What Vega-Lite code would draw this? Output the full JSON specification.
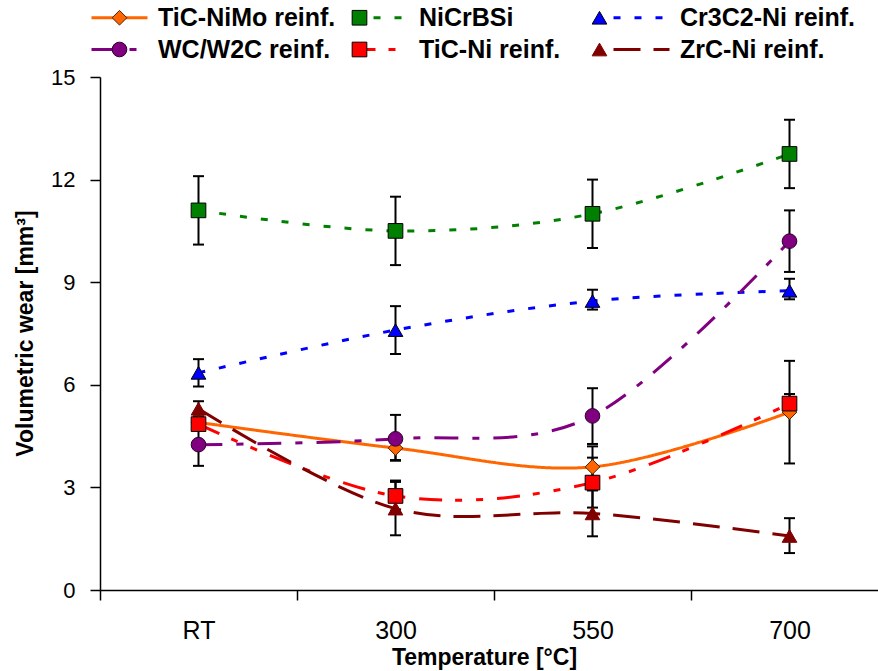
{
  "$schema": "https://vega.github.io/schema/vega-lite/v6.json",
  "width": 778,
  "height": 513,
  "autosize": "none",
  "padding": {"left": 100, "top": 77, "right": 0, "bottom": 81},
  "background": "white",
  "config": {
    "font": "Liberation Sans",
    "view": {"stroke": null},
    "axis": {"domainColor": "black", "tickColor": "black", "labelColor": "black", "titleColor": "black", "domainWidth": 1.5, "tickWidth": 1.5, "grid": false}
  },
  "data": {
    "values": [
      {"temp": "RT", "series": "TiC-NiMo reinf.", "order": 0, "v": 4.9, "lo": 4.65, "hi": 5.15},
      {"temp": "300", "series": "TiC-NiMo reinf.", "order": 0, "v": 4.15, "lo": 3.8, "hi": 4.5},
      {"temp": "550", "series": "TiC-NiMo reinf.", "order": 0, "v": 3.6, "lo": 3.0, "hi": 4.2},
      {"temp": "700", "series": "TiC-NiMo reinf.", "order": 0, "v": 5.2, "lo": 3.7, "hi": 6.7},
      {"temp": "RT", "series": "NiCrBSi", "order": 1, "v": 11.1, "lo": 10.1, "hi": 12.1},
      {"temp": "300", "series": "NiCrBSi", "order": 1, "v": 10.5, "lo": 9.5, "hi": 11.5},
      {"temp": "550", "series": "NiCrBSi", "order": 1, "v": 11.0, "lo": 10.0, "hi": 12.0},
      {"temp": "700", "series": "NiCrBSi", "order": 1, "v": 12.75, "lo": 11.75, "hi": 13.75},
      {"temp": "RT", "series": "Cr3C2-Ni reinf.", "order": 2, "v": 6.35, "lo": 5.95, "hi": 6.75},
      {"temp": "300", "series": "Cr3C2-Ni reinf.", "order": 2, "v": 7.6, "lo": 6.9, "hi": 8.3},
      {"temp": "550", "series": "Cr3C2-Ni reinf.", "order": 2, "v": 8.45, "lo": 8.2, "hi": 8.78},
      {"temp": "700", "series": "Cr3C2-Ni reinf.", "order": 2, "v": 8.75, "lo": 8.5, "hi": 9.1},
      {"temp": "RT", "series": "WC/W2C reinf.", "order": 3, "v": 4.25, "lo": 3.63, "hi": 4.87},
      {"temp": "300", "series": "WC/W2C reinf.", "order": 3, "v": 4.42, "lo": 3.78, "hi": 5.12},
      {"temp": "550", "series": "WC/W2C reinf.", "order": 3, "v": 5.09, "lo": 4.27, "hi": 5.9},
      {"temp": "700", "series": "WC/W2C reinf.", "order": 3, "v": 10.2, "lo": 9.3, "hi": 11.1},
      {"temp": "RT", "series": "TiC-Ni reinf.", "order": 4, "v": 4.85, "lo": 4.65, "hi": 5.05},
      {"temp": "300", "series": "TiC-Ni reinf.", "order": 4, "v": 2.75, "lo": 2.32, "hi": 3.2},
      {"temp": "550", "series": "TiC-Ni reinf.", "order": 4, "v": 3.14, "lo": 2.41, "hi": 3.87},
      {"temp": "700", "series": "TiC-Ni reinf.", "order": 4, "v": 5.45, "lo": 5.17, "hi": 5.73},
      {"temp": "RT", "series": "ZrC-Ni reinf.", "order": 5, "v": 5.3, "lo": 5.08, "hi": 5.52},
      {"temp": "300", "series": "ZrC-Ni reinf.", "order": 5, "v": 2.38, "lo": 1.6, "hi": 3.16},
      {"temp": "550", "series": "ZrC-Ni reinf.", "order": 5, "v": 2.24, "lo": 1.57, "hi": 2.91},
      {"temp": "700", "series": "ZrC-Ni reinf.", "order": 5, "v": 1.58, "lo": 1.08, "hi": 2.1}
    ]
  },
  "encoding": {
    "x": {
      "field": "temp", "type": "ordinal",
      "scale": {"type": "band", "domain": ["RT", "300", "550", "700"], "range": [0, 788], "paddingInner": 0, "paddingOuter": 0},
      "axis": {"title": "Temperature [°C]", "labelAngle": 0, "tickBand": "extent", "tickSize": 10, "labelPadding": 18, "labelFontSize": 25, "titleFontSize": 23, "titleFontWeight": "bold", "titleX": 384, "titleY": 74, "titleBaseline": "alphabetic"}
    }
  },
  "layer": [
    {
      "mark": {"type": "line", "strokeWidth": 3, "interpolate": "cardinal"},
      "encoding": {
        "y": {
          "field": "v", "type": "quantitative",
          "scale": {"domain": [0, 15], "nice": false, "zero": true},
          "axis": {"title": "Volumetric wear [mm³]", "values": [0, 3, 6, 9, 12, 15], "tickSize": 10, "labelPadding": 15, "labelFontSize": 22, "titleFontSize": 23, "titleFontWeight": "bold", "titleX": -68, "titleY": 256, "titleBaseline": "alphabetic", "titleAngle": -90}
        },
        "color": {
          "field": "series", "type": "nominal",
          "scale": {"domain": ["TiC-NiMo reinf.", "NiCrBSi", "Cr3C2-Ni reinf.", "WC/W2C reinf.", "TiC-Ni reinf.", "ZrC-Ni reinf."], "range": ["#FF6600", "#008000", "#0000FF", "#800080", "#FF0000", "#800000"]},
          "legend": {
            "title": null, "orient": "none", "legendX": 7, "legendY": -72, "columns": 3, "direction": "horizontal", "gridAlign": "all",
            "columnPadding": 10, "rowPadding": 6, "labelFontSize": 25, "labelFontWeight": "bold", "labelColor": "black", "labelOffset": 26, "labelLimit": 400,
            "symbolType": "M-4,0L4,0", "symbolSize": 196, "symbolStrokeWidth": 3
          }
        },
        "strokeDash": {
          "field": "series", "type": "nominal",
          "scale": {"domain": ["TiC-NiMo reinf.", "NiCrBSi", "Cr3C2-Ni reinf.", "WC/W2C reinf.", "TiC-Ni reinf.", "ZrC-Ni reinf."], "range": [[1, 0], [7, 14], [7, 14], [24, 14, 7, 14], [23, 13, 7, 14, 7, 14], [27, 13]]},
          "legend": {
            "title": null, "orient": "none", "legendX": 7, "legendY": -72, "columns": 3, "direction": "horizontal", "gridAlign": "all",
            "columnPadding": 10, "rowPadding": 6, "labelFontSize": 25, "labelFontWeight": "bold", "labelColor": "black", "labelOffset": 26, "labelLimit": 400,
            "symbolType": "M-4,0L4,0", "symbolSize": 196, "symbolStrokeWidth": 3
          }
        }
      }
    },
    {
      "mark": {"type": "rule", "color": "black", "strokeWidth": 2},
      "encoding": {
        "y": {"field": "lo", "type": "quantitative"},
        "y2": {"field": "hi"}
      }
    },
    {
      "mark": {"type": "tick", "color": "black", "thickness": 2, "size": 11, "opacity": 1},
      "encoding": {"y": {"field": "lo", "type": "quantitative"}}
    },
    {
      "mark": {"type": "tick", "color": "black", "thickness": 2, "size": 11, "opacity": 1},
      "encoding": {"y": {"field": "hi", "type": "quantitative"}}
    },
    {
      "mark": {"type": "point", "filled": true, "opacity": 1, "strokeWidth": 1, "size": 215},
      "encoding": {
        "y": {"field": "v", "type": "quantitative"},
        "fill": {
          "field": "series", "type": "nominal",
          "sort": {"field": "order", "op": "min"},
          "scale": {"range": ["#FF6600", "#008000", "#0000FF", "#800080", "#FF0000", "#800000"]},
          "legend": {
            "title": null, "orient": "none", "legendX": 7, "legendY": -72, "columns": 3, "direction": "horizontal", "gridAlign": "all",
            "columnPadding": 10, "rowPadding": 6, "labelFontSize": 25, "labelFontWeight": "bold", "labelOpacity": 0, "labelOffset": 27, "labelLimit": 400,
            "symbolSize": 215, "symbolStrokeWidth": 1
          }
        },
        "stroke": {
          "field": "series", "type": "nominal",
          "sort": {"field": "order", "op": "min"},
          "scale": {"range": ["#4d2000", "#000000", "#000000", "#2a002a", "#000000", "#800000"]},
          "legend": {
            "title": null, "orient": "none", "legendX": 7, "legendY": -72, "columns": 3, "direction": "horizontal", "gridAlign": "all",
            "columnPadding": 10, "rowPadding": 6, "labelFontSize": 25, "labelFontWeight": "bold", "labelOpacity": 0, "labelOffset": 27, "labelLimit": 400,
            "symbolSize": 215, "symbolStrokeWidth": 1
          }
        },
        "shape": {
          "field": "series", "type": "nominal",
          "sort": {"field": "order", "op": "min"},
          "scale": {"range": ["diamond", "square", "triangle-up", "circle", "square", "triangle-up"]},
          "legend": {
            "title": null, "orient": "none", "legendX": 7, "legendY": -72, "columns": 3, "direction": "horizontal", "gridAlign": "all",
            "columnPadding": 10, "rowPadding": 6, "labelFontSize": 25, "labelFontWeight": "bold", "labelOpacity": 0, "labelOffset": 27, "labelLimit": 400,
            "symbolSize": 215, "symbolStrokeWidth": 1
          }
        }
      }
    }
  ]
}
